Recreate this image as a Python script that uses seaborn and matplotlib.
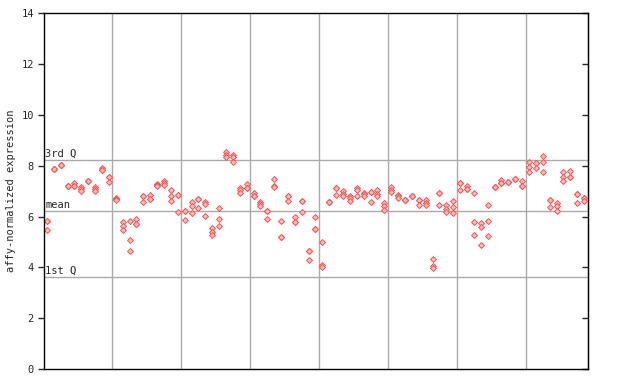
import numpy as np
import pandas as pd
import matplotlib
matplotlib.use("Agg")
import matplotlib.pyplot as plt
import seaborn as sns

# replicate values per sample
sample_values = [
    [5.84, 5.84, 5.48], [7.87, 7.87, 7.87], [8.03, 8.03, 8.03], [7.19, 7.19, 7.19],
    [7.32, 7.19, 7.19], [7.16, 7.08, 6.99], [7.40, 7.40, 7.40], [7.16, 7.08, 6.99],
    [7.91, 7.82, 7.82], [7.58, 7.58, 7.36], [6.74, 6.70, 6.66], [5.77, 5.64, 5.48],
    [5.84, 5.09, 4.65], [5.90, 5.70, 5.70], [6.80, 6.80, 6.56], [6.86, 6.69, 6.69],
    [7.29, 7.24, 7.19], [7.39, 7.32, 7.26], [7.06, 6.82, 6.60], [6.86, 6.86, 6.20],
    [6.23, 6.23, 5.88], [6.56, 6.40, 6.16], [6.69, 6.69, 6.33], [6.56, 6.50, 6.03],
    [5.54, 5.40, 5.28], [6.33, 5.90, 5.64], [8.53, 8.44, 8.35], [8.44, 8.35, 8.17],
    [7.12, 7.03, 6.93], [7.29, 7.11, 7.11], [6.93, 6.80, 6.80], [6.56, 6.50, 6.40],
    [6.23, 6.23, 5.90], [7.48, 7.22, 7.15], [5.84, 5.18, 5.18], [6.83, 6.83, 6.62],
    [5.98, 5.77, 5.77], [6.60, 6.60, 6.20], [4.65, 4.65, 4.30], [5.98, 5.51, 5.51],
    [4.99, 4.10, 4.02], [6.57, 6.57, 6.57], [7.11, 7.11, 6.86], [6.99, 6.90, 6.83],
    [6.82, 6.73, 6.62], [7.12, 7.03, 6.80], [6.93, 6.88, 6.83], [6.97, 6.97, 6.56],
    [7.03, 6.90, 6.80], [6.53, 6.40, 6.27], [7.16, 7.06, 6.97], [6.86, 6.80, 6.73],
    [6.66, 6.66, 6.66], [6.83, 6.83, 6.83], [6.66, 6.66, 6.44], [6.66, 6.55, 6.44],
    [4.34, 4.06, 3.99], [6.93, 6.93, 6.44], [6.44, 6.30, 6.20], [6.60, 6.36, 6.14],
    [7.32, 7.32, 7.06], [7.19, 7.08, 7.08], [6.93, 5.78, 5.27], [5.74, 5.59, 4.88],
    [6.45, 5.84, 5.23], [7.16, 7.16, 7.16], [7.45, 7.32, 7.32], [7.35, 7.35, 7.35],
    [7.48, 7.48, 7.48], [7.39, 7.19, 7.19], [8.14, 7.95, 7.76], [8.11, 8.11, 7.91],
    [8.37, 8.14, 7.76], [6.64, 6.64, 6.37], [6.53, 6.40, 6.23], [7.76, 7.58, 7.39],
    [7.81, 7.56, 7.56], [6.90, 6.90, 6.53], [6.73, 6.73, 6.60],
]
group_bounds = [9.5, 19.5, 29.5, 39.5, 49.5, 59.5, 69.5]
ref_lines = {"3rd Q": 8.21, "mean": 6.22, "1st Q": 3.62}
y_ticks = [0, 2, 4, 6, 8, 10, 12, 14]

rows = [(i, v) for i, vals in enumerate(sample_values) for v in vals]
df = pd.DataFrame(rows, columns=["sample", "value"])

sns.set_style("white")
plt.rcParams["font.family"] = ["DejaVu Sans Mono"]

fig = plt.figure(figsize=(6.4, 3.84), dpi=100)
ax = fig.add_axes([0.069, 0.039, 0.849, 0.926])

for x in group_bounds:
    ax.axvline(x, color="#aaaaaa", lw=1, zorder=1)
for name, y in ref_lines.items():
    ax.axhline(y, color="#aaaaaa", lw=1, zorder=1)
    ax.text(-0.25, y + 0.06, name, fontsize=7.5, va="bottom", ha="left", zorder=3)

sns.scatterplot(data=df, x="sample", y="value", marker="D", s=9,
                facecolor="#ffc0c0", edgecolor="#ff5050", linewidth=0.7,
                ax=ax, zorder=2, legend=False)

ax.set_xlim(-0.4, 78.5)
ax.set_ylim(0, 14)
ax.set_xticks([])
ax.set_yticks(y_ticks)
ax.set_yticklabels([str(t) for t in y_ticks], fontsize=7.5)
ax.tick_params(axis="y", direction="out", length=4, width=1, left=True)
ax.set_xlabel("")
ax.set_ylabel("affy-normalized expression", fontsize=7.5)
for sp in ax.spines.values():
    sp.set_color("black")
    sp.set_linewidth(1)

# inward ticks on the right side, no labels
ax_r = ax.secondary_yaxis("right")
ax_r.set_yticks(y_ticks)
ax_r.tick_params(direction="in", length=4, width=1, labelright=False)

fig.savefig("out.png", dpi=100)
